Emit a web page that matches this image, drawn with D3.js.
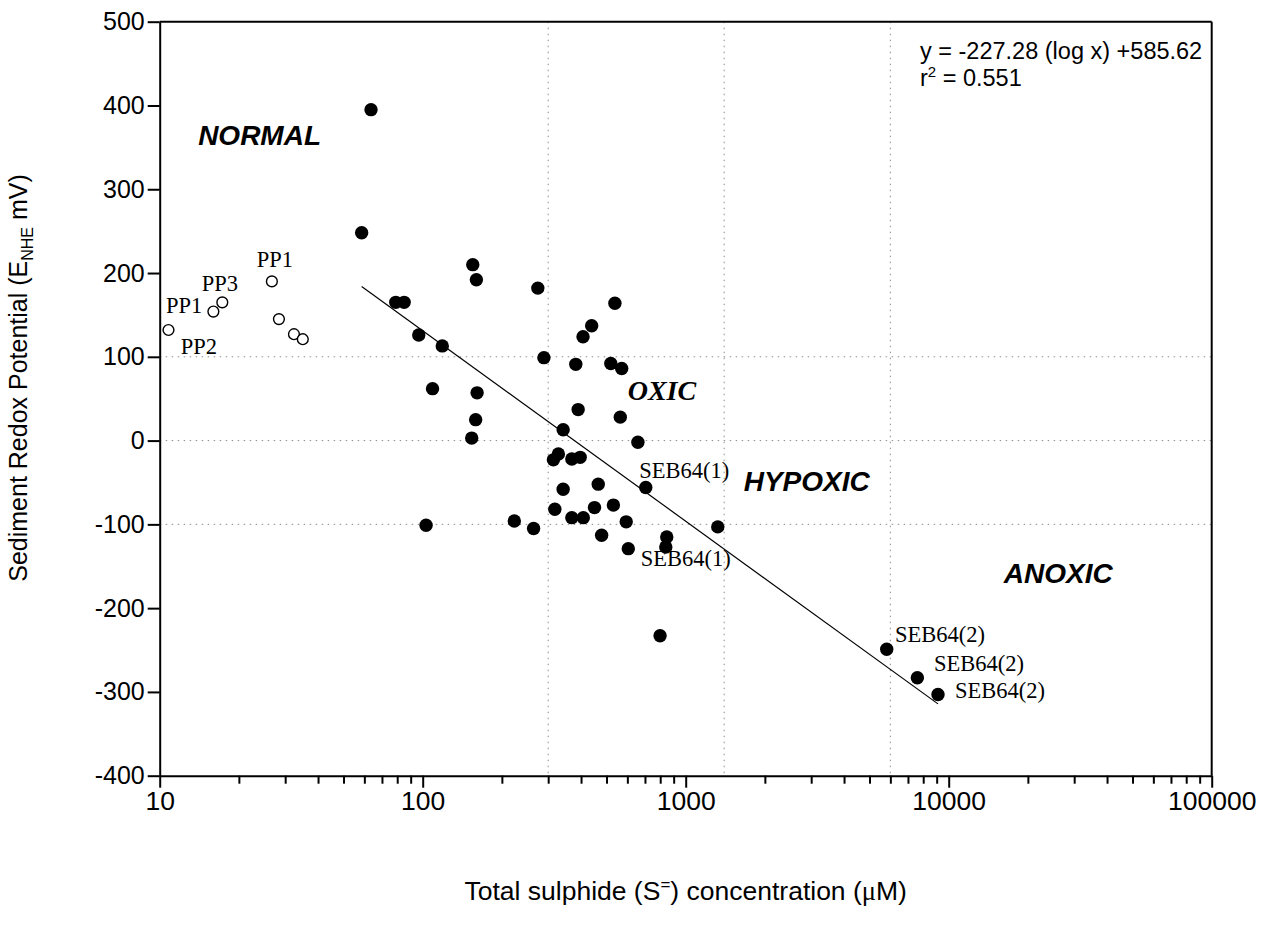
<!DOCTYPE html>
<html>
<head>
<meta charset="utf-8">
<script src="https://cdn.jsdelivr.net/npm/d3@7"></script>
<style>
  html, body { margin: 0; padding: 0; background: #fff; }
  svg { display: block; }
</style>
</head>
<body>
<svg id="chart" width="1263" height="932"></svg>
<script>
// ---------------- DATA ----------------
// Open circles (PP sites): total sulphide (uM), Eh (mV)
const openX = [10.8, 16.0, 17.3, 26.7, 28.4, 32.4, 35.0];
const openY = [132, 154, 165, 190, 145, 127, 121];

// Filled circles: total sulphide (uM), Eh (mV)
const filledX = [63.6, 58.6, 155, 160, 79, 85, 96.6, 118.7, 109, 161, 159, 153.6,
  274, 538, 439, 407, 289, 382, 519, 571, 390, 564, 342, 658,
  328, 314, 369, 397, 705, 465, 342, 318, 369, 408, 450, 531,
  594, 479, 605, 847, 840, 1324, 103, 223, 264, 799, 5812, 7600, 9106];
const filledY = [395, 248, 210, 192, 165, 165, 126, 113, 62, 57, 25, 3,
  182, 164, 137, 124, 99, 91, 92, 86, 37, 28, 13, -2,
  -16, -23, -22, -20, -56, -52, -58, -82, -92, -92, -80, -77,
  -97, -113, -129, -115, -127, -103, -101, -96, -105, -233, -249, -283, -303];

// Regression: y = slope * log10(x) + intercept
const regSlope = -227.28;
const regIntercept = 585.62;
const equationLines = ["y = -227.28 (log x) +585.62", "r2 = 0.551"];

// Axis ticks
const xTicks = [10, 100, 1000, 10000, 100000];
const yTicks = [-400, -300, -200, -100, 0, 100, 200, 300, 400, 500];

// Classification boundaries (dotted grid)
const gridX = [300, 1400, 6000];
const gridY = [100, 0, -100];

// Region labels: text, sulphide value, Eh value (anchor = start of text)
const regionText = ["NORMAL", "OXIC", "HYPOXIC", "ANOXIC"];
const regionXv = [14.0, 602, 1661, 16200];
const regionYv = [353, 48, -60, -170];

// Point labels
const pointText = ["PP1", "PP3", "PP1", "PP2", "SEB64(1)", "SEB64(1)", "SEB64(2)", "SEB64(2)", "SEB64(2)"];
const pointXv = [23.4, 14.45, 10.57, 12.02, 666, 674, 6249, 8793, 10568];
const pointYv = [207.6, 178.6, 152.3, 103.4, -45, -149.3, -240, -275, -307.6];

// ---------------- CHART ----------------
const sans = "Arial, 'Liberation Sans', Helvetica, sans-serif";
const serif = "'Times New Roman', 'Liberation Serif', serif";

const svg = d3.select("#chart");
const L = 159.7, R = 1211.7, T = 21.7, B = 775.7;

const x = d3.scaleLog().domain([10, 100000]).range([L, R]);
const y = d3.scaleLinear().domain([-400, 500]).range([B, T]);

// grid
const grid = svg.append("g").attr("stroke", "#8c8c8c").attr("stroke-width", 1)
  .attr("stroke-dasharray", "1.5,4.5");
grid.selectAll("line.gx").data(gridX).join("line").attr("class", "gx")
  .attr("x1", d => x(d)).attr("x2", d => x(d)).attr("y1", T).attr("y2", B);
grid.selectAll("line.gy").data(gridY).join("line").attr("class", "gy")
  .attr("x1", L).attr("x2", R).attr("y1", d => y(d)).attr("y2", d => y(d));

// frame top/right
svg.append("line").attr("x1", L).attr("x2", R).attr("y1", T).attr("y2", T)
  .attr("stroke", "#000").attr("stroke-width", 2);
svg.append("line").attr("x1", R).attr("x2", R).attr("y1", T).attr("y2", B)
  .attr("stroke", "#000").attr("stroke-width", 2);

// minor x ticks
const minor = [];
for (let e = 1; e < 5; e++) for (let m = 2; m <= 9; m++) minor.push(m * Math.pow(10, e));
const gxMinor = svg.append("g").attr("transform", `translate(0,${B})`)
  .call(d3.axisBottom(x).tickValues(minor).tickSize(8).tickSizeOuter(0).tickFormat(""));
gxMinor.select(".domain").remove();

// x axis
const gx = svg.append("g").attr("transform", `translate(0,${B})`)
  .call(d3.axisBottom(x).tickValues(xTicks).tickSize(12).tickSizeOuter(0).tickPadding(3)
    .tickFormat(d => String(d)));
gx.selectAll("text").attr("font-family", sans).attr("font-size", 26.5).attr("fill", "#000");

// y axis
const gy = svg.append("g").attr("transform", `translate(${L},0)`)
  .call(d3.axisLeft(y).tickValues(yTicks).tickSize(12).tickSizeOuter(0).tickPadding(3)
    .tickFormat(d => String(d)));
gy.selectAll("text").attr("font-family", sans).attr("font-size", 25).attr("fill", "#000");

[gx, gy, gxMinor].forEach(g => {
  g.selectAll("line").attr("stroke", "#000").attr("stroke-width", 2);
  g.selectAll(".domain").attr("stroke", "#000").attr("stroke-width", 2);
});

// regression line
const regX = d3.extent(filledX);
svg.append("line")
  .attr("x1", x(regX[0])).attr("y1", y(regSlope * Math.log10(regX[0]) + regIntercept))
  .attr("x2", x(regX[1])).attr("y2", y(regSlope * Math.log10(regX[1]) + regIntercept))
  .attr("stroke", "#000").attr("stroke-width", 1.2);

// filled points
svg.append("g").selectAll("circle").data(filledX.map((v, i) => [v, filledY[i]])).join("circle")
  .attr("cx", d => x(d[0])).attr("cy", d => y(d[1])).attr("r", 6.7).attr("fill", "#000");

// open points
svg.append("g").selectAll("circle").data(openX.map((v, i) => [v, openY[i]])).join("circle")
  .attr("cx", d => x(d[0])).attr("cy", d => y(d[1])).attr("r", 5.4)
  .attr("fill", "#fff").attr("stroke", "#000").attr("stroke-width", 1.4);

// point labels
svg.append("g").selectAll("text").data(pointText.map((t, i) => [t, pointXv[i], pointYv[i]])).join("text")
  .attr("x", d => x(d[1])).attr("y", d => y(d[2]))
  .attr("font-family", serif).attr("font-size", 22.5).attr("fill", "#000")
  .text(d => d[0]);

// region labels
svg.append("g").selectAll("text").data(regionText.map((t, i) => [t, regionXv[i], regionYv[i]])).join("text")
  .attr("x", d => x(d[1])).attr("y", d => y(d[2]))
  .attr("font-family", d => d[0] === "OXIC" ? serif : sans)
  .attr("font-size", 28).attr("font-weight", "bold").attr("font-style", "italic")
  .attr("fill", "#000")
  .text(d => d[0]);

// equation
const eqX = 920;
svg.append("text").attr("x", eqX).attr("y", 59.3)
  .attr("font-family", sans).attr("font-size", 23.5).text(equationLines[0]);
const eq2 = svg.append("text").attr("x", eqX).attr("y", 86)
  .attr("font-family", sans).attr("font-size", 23.5);
eq2.append("tspan").text("r");
eq2.append("tspan").attr("dy", -9).attr("font-size", 15).text("2");
eq2.append("tspan").attr("dy", 9).text(" = 0.551");

// x title
const xt = svg.append("text").attr("x", (L + R) / 2).attr("y", 900)
  .attr("text-anchor", "middle").attr("font-family", sans).attr("font-size", 26.5);
xt.append("tspan").text("Total sulphide (S");
xt.append("tspan").attr("dy", -10).attr("font-size", 17).text("=");
xt.append("tspan").attr("dy", 10).text(") concentration (");
xt.append("tspan").attr("font-family", serif).text("\u03bc");
xt.append("tspan").text("M)");

// y title
const yt = svg.append("text")
  .attr("transform", `translate(27,378) rotate(-90)`)
  .attr("text-anchor", "middle").attr("font-family", sans).attr("font-size", 25);
yt.append("tspan").text("Sediment Redox Potential (E");
yt.append("tspan").attr("dy", 6).attr("font-size", 16).text("NHE");
yt.append("tspan").attr("dy", -6).text(" mV)");
</script>
</body>
</html>
